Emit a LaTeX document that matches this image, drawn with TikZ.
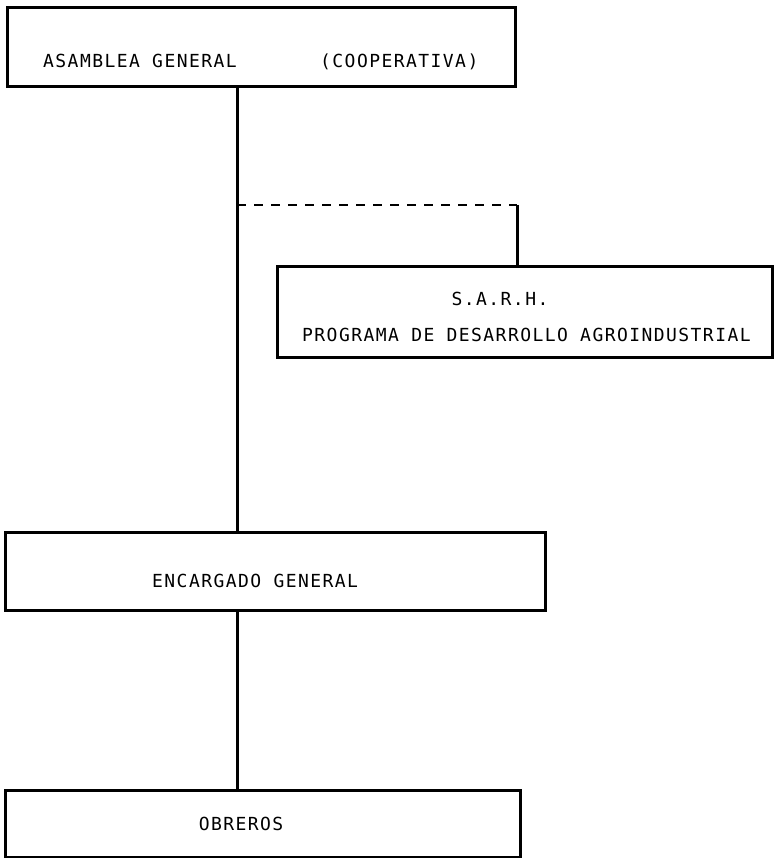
\documentclass[tikz,border=0pt]{standalone}
\usepackage{fontspec}
\newfontfamily\tw[LetterSpace=8]{DejaVu Sans Mono}
\begin{document}
\begin{tikzpicture}[x=1pt,y=-1pt,
  box/.style={draw=black,line width=3pt,inner sep=0pt,rectangle},
  lbl/.style={inner sep=0pt,font=\tw\fontsize{18}{20}\selectfont,text=black},
  conn/.style={line width=3pt,draw=black},
  dashconn/.style={line width=2pt,draw=black,dash pattern=on 9pt off 8pt}]
\useasboundingbox (0,0) rectangle (773,858);
% boxes
\node[box,minimum width=508pt,minimum height=79pt] (asam) at (261,47.5) {};
\node[box,minimum width=495pt,minimum height=90pt] (sarh) at (524.5,312) {};
\node[box,minimum width=540pt,minimum height=78pt] (enc) at (275,571) {};
\node[box,minimum width=515pt,minimum height=67pt] (obr) at (262.5,823.5) {};
% texts
\node[lbl,anchor=base west] (t1) at (43,68) {ASAMBLEA GENERAL};
\node[lbl,anchor=base west] (t2) at (320,68) {(COOPERATIVA)};
\node[lbl,anchor=base] (t3) at (500,305) {S.A.R.H.};
\node[lbl,anchor=base west] (t4) at (302,341) {PROGRAMA DE DESARROLLO AGROINDUSTRIAL};
\node[lbl,anchor=base west] (t5) at (152,587) {ENCARGADO GENERAL};
\node[lbl,anchor=base] (t6) at (241,830) {OBREROS};
% connectors
\coordinate (a1) at (237,8);
\coordinate (j1) at (237,205);
\coordinate (j2) at (517,205);
\draw[conn] (asam.south -| a1) -- (enc.north -| a1);
\draw[dashconn] (j1) -- (j2);
\draw[conn] (j2) -- (sarh.north -| j2);
\draw[conn] (enc.south -| a1) -- (obr.north -| a1);
\end{tikzpicture}
\end{document}
